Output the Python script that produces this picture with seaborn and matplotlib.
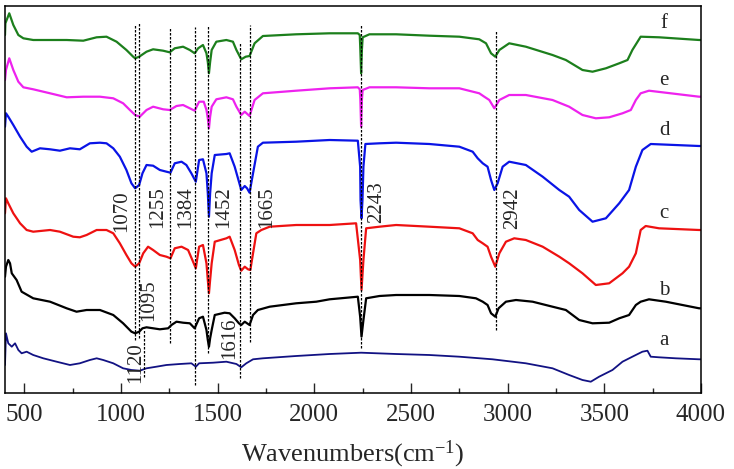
import numpy as np
import pandas as pd
import matplotlib
matplotlib.use("Agg")
import matplotlib.pyplot as plt
import seaborn as sns
from matplotlib.ticker import MultipleLocator

# ---------------- data ----------------
wn_f = [400, 402, 422, 443, 469, 495, 546, 719, 805, 874, 925, 977, 1028, 1063, 1073, 1094, 1132, 1166, 1218,
        1252, 1278, 1321, 1356, 1381, 1399, 1424, 1442, 1449, 1455, 1461, 1469, 1493, 1545, 1579, 1597, 1622,
        1645, 1665, 1691, 1734, 1906, 2079, 2225, 2235, 2238, 2242, 2246, 2250, 2285, 2423, 2595, 2750, 2853,
        2888, 2914, 2936, 2957, 3008, 3094, 3232, 3301, 3387, 3439, 3508, 3577, 3620, 3645, 3688, 3783, 3990, 4000]
t_f = [365, 376.7, 386.7, 375, 365, 361.7, 360, 360, 359.3, 362.7, 363.3, 358.3, 350, 343.3, 341.7, 343.3, 348.3,
       350.7, 349.3, 347.7, 351.7, 353.3, 350, 346.7, 351.7, 355, 346.7, 338, 326.7, 338, 350, 358.3, 360, 358.3,
       350, 340.7, 343.3, 344, 356.7, 364, 365.7, 366.7, 366.7, 365, 350, 326.7, 350, 362.7, 365.7, 365.7, 364.3,
       363.3, 360.7, 356.7, 346.7, 343.3, 350, 356.7, 353.3, 345, 340, 330, 328.3, 331.7, 336.7, 340, 350, 363.3,
       362.7, 360, 360]

wn_e = [400, 405, 422, 443, 469, 495, 546, 633, 719, 805, 891, 960, 1011, 1046, 1073, 1097, 1132, 1166, 1218,
        1252, 1287, 1321, 1356, 1381, 1404, 1428, 1442, 1449, 1455, 1461, 1469, 1493, 1545, 1579, 1597, 1622,
        1640, 1665, 1691, 1734, 1906, 2079, 2225, 2235, 2238, 2242, 2246, 2250, 2285, 2423, 2595, 2750, 2853,
        2879, 2905, 2931, 2957, 3008, 3094, 3232, 3318, 3387, 3456, 3525, 3594, 3637, 3663, 3688, 3731, 3990, 4000]
t_e = [320, 330, 341.7, 330, 318.3, 312.7, 310.7, 306.7, 302.7, 303.3, 303.3, 301.7, 296.7, 290, 285, 283.3, 290,
       293.3, 290.7, 290, 294, 295, 291.7, 289.3, 298.3, 298.3, 290, 281.7, 271.7, 283.3, 293.3, 300.7, 302.7,
       300.7, 293.3, 285, 288.3, 284, 300, 306.7, 309.3, 311.7, 312.7, 310.7, 300, 273.3, 300, 310, 312.7, 312.7,
       311.7, 311.7, 306.7, 303.3, 300, 291.7, 300, 305, 305, 300, 293.3, 285, 281.7, 282.7, 286.7, 290, 300,
       306.7, 309.3, 303.3, 303.3]

wn_d = [400, 405, 417, 443, 478, 512, 538, 581, 633, 684, 736, 787, 839, 891, 925, 960, 994, 1028, 1054, 1073,
        1094, 1111, 1132, 1166, 1201, 1235, 1256, 1278, 1313, 1338, 1364, 1387, 1404, 1424, 1442, 1449, 1455,
        1461, 1469, 1485, 1545, 1562, 1588, 1610, 1622, 1640, 1652, 1665, 1683, 1708, 1734, 1906, 2079, 2225,
        2237, 2239, 2244, 2249, 2254, 2264, 2337, 2423, 2595, 2750, 2819, 2845, 2871, 2896, 2914, 2931, 2948,
        2974, 3008, 3094, 3181, 3267, 3318, 3370, 3439, 3508, 3577, 3628, 3663, 3697, 3740, 3990, 4000]
t_d = [273.3, 286.7, 283.3, 275, 263.3, 253.3, 248.3, 251.7, 250.7, 249.3, 251.7, 250.7, 256.7, 257.3, 256.7,
       251.7, 243.3, 230, 216.7, 211.7, 215, 226.7, 235, 234.3, 230, 228.3, 227.3, 236.7, 238.3, 235, 226.7,
       218.3, 240, 240.7, 226.7, 206.7, 183.3, 206.7, 226.7, 245, 246, 246.7, 233.3, 218.3, 210, 214, 211.7,
       207.3, 226.7, 253.3, 257.3, 258.3, 260, 259.3, 233.3, 200, 181.7, 200, 233.3, 256, 256.7, 257.3, 256,
       253.3, 248.3, 241.7, 236.7, 233.3, 220, 210, 216.7, 233.3, 238.3, 235, 223.3, 210, 203.3, 190, 178.3,
       181.7, 196.7, 210, 233.3, 250, 256, 254, 254]

wn_c = [400, 405, 417, 443, 478, 512, 546, 633, 684, 753, 787, 822, 874, 925, 960, 994, 1028, 1054, 1073, 1094,
        1115, 1140, 1166, 1201, 1235, 1256, 1278, 1313, 1347, 1369, 1387, 1404, 1424, 1442, 1449, 1455, 1461,
        1469, 1485, 1545, 1562, 1588, 1610, 1622, 1640, 1657, 1669, 1683, 1700, 1726, 1769, 1906, 2079, 2216,
        2237, 2244, 2254, 2268, 2337, 2423, 2595, 2750, 2819, 2845, 2871, 2896, 2914, 2936, 2957, 2991, 3034,
        3094, 3181, 3267, 3318, 3387, 3456, 3525, 3594, 3628, 3663, 3688, 3714, 3783, 3990, 4000]
t_c = [186.7, 201.7, 196.7, 186.7, 176.7, 170, 168.3, 170, 168.3, 163.3, 162.7, 165, 170, 170, 166.7, 156.7, 145,
       136.7, 133.3, 136.7, 146.7, 153.3, 150, 145, 143.3, 141.7, 151.7, 153.3, 150, 140, 131.7, 153.3, 155,
       136.7, 120, 106.7, 120, 136.7, 158.3, 161.7, 163.3, 150, 135, 129.3, 133.3, 130.7, 130, 146.7, 166.7, 170,
       173.3, 175, 175, 176.7, 140, 110, 140, 171.7, 173.3, 175, 173.3, 171.7, 166.7, 160, 156.7, 153.3, 143.3,
       133.3, 146.7, 158.3, 161.7, 160, 153.3, 143.3, 136.7, 126.7, 115, 116.7, 126.7, 133.3, 146.7, 170, 174,
       171.7, 170, 170]

wn_b = [400, 405, 417, 426, 435, 460, 486, 546, 633, 719, 770, 822, 891, 960, 1011, 1054, 1073, 1094, 1111, 1132,
        1201, 1244, 1261, 1287, 1321, 1356, 1381, 1404, 1424, 1442, 1449, 1455, 1461, 1469, 1485, 1536, 1562,
        1588, 1610, 1622, 1640, 1652, 1665, 1683, 1708, 1769, 1906, 2010, 2079, 2225, 2237, 2244, 2254, 2268,
        2337, 2423, 2595, 2750, 2836, 2871, 2896, 2914, 2936, 2953, 2991, 3043, 3129, 3232, 3301, 3370, 3439,
        3525, 3577, 3628, 3663, 3688, 3731, 3818, 3990, 4000]
t_b = [123.3, 133.3, 140, 136.7, 126.7, 120, 108.3, 101.7, 98.3, 91.7, 88.3, 90, 90, 85, 76.7, 68.3, 66.7, 68.3,
       71.7, 72.7, 70.7, 71.7, 75, 78.3, 77.3, 76.7, 71.7, 81.7, 83.3, 70, 60, 53.3, 61.7, 70, 85, 87.3, 86.7,
       81.7, 76.7, 75, 78.3, 76.7, 75, 85, 90, 93.3, 96.7, 98.3, 100.7, 103.3, 83.3, 63.3, 80, 101.7, 104, 105,
       105, 104, 101.7, 98.3, 95, 86.7, 83.3, 91.7, 98.3, 100, 98.3, 93.3, 90, 80, 76.7, 77.3, 81.7, 85, 95, 98.3,
       100.7, 98.3, 91.7, 91.7]

wn_a = [400, 405, 417, 435, 452, 469, 486, 512, 546, 598, 667, 736, 787, 839, 874, 908, 960, 1011, 1054, 1097,
        1132, 1183, 1235, 1304, 1364, 1387, 1404, 1476, 1545, 1597, 1622, 1648, 1683, 1734, 1906, 2079, 2242,
        2423, 2595, 2750, 2922, 3094, 3232, 3318, 3387, 3430, 3473, 3542, 3594, 3645, 3697, 3723, 3740, 3783,
        3869, 3990, 4000]
t_a = [35, 66.7, 56.7, 53.3, 56.7, 50, 46.7, 48.3, 45, 41.7, 38.3, 35, 36.7, 40, 41.7, 40, 36.7, 31.7, 30, 29.3,
       31.7, 33.3, 35, 36, 36.7, 33.3, 36.7, 37.3, 38.3, 36, 32.7, 36.7, 40.7, 41.7, 44, 46, 47.3, 46, 45, 43.3,
       40.7, 36.7, 31.7, 25, 20, 18.3, 23.3, 30, 38.3, 43.3, 48.3, 49.3, 43.3, 42.7, 41.7, 40.7, 40.7]

series_names = ["f", "e", "d", "c", "b", "a"]
series_colors = ["#1c7f1c", "#ee22ee", "#0a14e6", "#ee1111", "#000000", "#121283"]

# peak markers: wavenumber, label, line bottom, line top, label x, label y
peak_wn = [1070, 1095, 1120, 1255, 1384, 1452, 1616, 1665, 2243, 2942]
peak_labels = ["1070", "1095", "1120", "1255", "1384", "1452", "1616", "1665", "2243", "2942"]
peak_line_lo = [60, 62, 23, 57, 15, 47, 22, 58, 52, 70]
peak_line_hi = [375, 377, 70, 373, 373, 375, 358, 375, 375, 370]
peak_text_x = [1004, 1144, 1077, 1190, 1335, 1531, 1562, 1753, 2321, 3024]
peak_text_y = [189, 100, 37.5, 193, 193, 193, 62, 193, 198, 192]

# curve letter labels
letter_x = [3809, 3809, 3809, 3809, 3809, 3809]
letter_y = [371.7, 315, 265, 182, 105, 55]

# ---------------- plot ----------------
sns.set_theme(style="white")
plt.rcParams["font.family"] = ["Liberation Serif", "DejaVu Serif"]
plt.rcParams["mathtext.fontset"] = "custom"
plt.rcParams["mathtext.rm"] = "Liberation Serif"
plt.rcParams["mathtext.it"] = "Liberation Serif:italic"

fig = plt.figure(figsize=(7.34, 4.69), dpi=100)
ax = fig.add_axes([5 / 734, 1 - 393 / 469, 696 / 734, 387 / 469])

data = {"f": (wn_f, t_f), "e": (wn_e, t_e), "d": (wn_d, t_d),
        "c": (wn_c, t_c), "b": (wn_b, t_b), "a": (wn_a, t_a)}

for name, col in zip(series_names, series_colors):
    wn, tt = data[name]
    df = pd.DataFrame({"wn": wn, "t": tt})
    sns.lineplot(data=df, x="wn", y="t", color=col, linewidth=1.6 if name != "a" else 1.3,
                 estimator=None, sort=False, ax=ax)

ax.vlines(peak_wn, peak_line_lo, peak_line_hi, colors="black", linestyles=(0, (2.0, 1.2)), linewidth=0.9)
for px, py, lab in zip(peak_text_x, peak_text_y, peak_labels):
    ax.text(px, py, lab, rotation=90, ha="center", va="center", fontsize=15)

for lx, ly, lab in zip(letter_x, letter_y, series_names):
    ax.text(lx, ly, lab, ha="center", va="baseline", fontsize=15)

ax.set_xlim(400, 4000)
ax.set_ylim(7, 394)
ax.set_yticks([])
ax.set_ylabel("")
ax.xaxis.set_major_locator(MultipleLocator(500))
ax.xaxis.set_minor_locator(MultipleLocator(250))
ax.tick_params(axis="x", which="major", direction="in", length=7, width=1, labelsize=18, pad=8,
               bottom=True, top=False)
ax.tick_params(axis="x", which="minor", direction="in", length=3.5, width=1, bottom=True, top=False)
ax.set_xlabel("Wavenumbers(cm$^{-1}$)", fontsize=19, labelpad=9)
for s in ax.spines.values():
    s.set_color("black")
    s.set_linewidth(1.1)

fig.savefig("out.png", dpi=100)
